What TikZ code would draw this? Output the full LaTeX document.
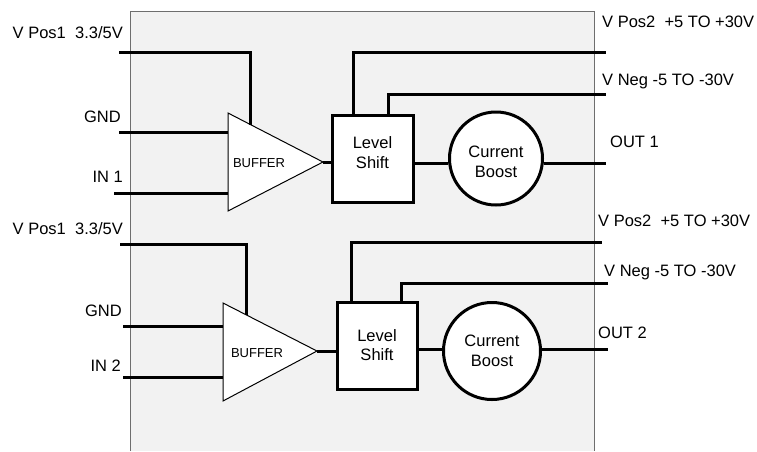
\documentclass[tikz,border=0pt]{standalone}
\usepackage{fontspec}
\setmainfont{Liberation Sans}
\usetikzlibrary{calc}
\definecolor{panel}{RGB}{242,242,242}
\definecolor{edge}{RGB}{110,110,110}
\newcommand{\twoline}[3]{\raisebox{#1}[0pt][0pt]{\begin{tabular}{@{}c@{}}#2\\#3\end{tabular}}}
\begin{document}
\begin{tikzpicture}[x=1pt,y=-1pt,
  wire/.style={line width=3pt},
  lbl/.style={font=\fontsize{16.5}{19}\selectfont, inner sep=0pt},
  bufbox/.style={draw=black, fill=white, line width=1pt, line join=miter},
  buftxt/.style={font=\fontsize{13}{15}\selectfont, inner sep=0pt},
  lvlbox/.style={draw, line width=3pt, fill=white, minimum width=81pt, minimum height=87pt,
    inner sep=0pt, font=\fontsize{16.5}{19.5}\selectfont},
  boostc/.style={draw, circle, line width=3pt, fill=white, minimum size=93pt,
    inner sep=0pt, font=\fontsize{16.5}{19.5}\selectfont}
]
\useasboundingbox (0,0) rectangle (757,451);
% panel
\fill[panel] (130,11) rectangle (594,451);
\draw[edge, line width=1pt] (130,451) -- (130,11) -- (594,11) -- (594,451);

% ===== channel 1 =====
\coordinate (ta1) at (228,113);
\coordinate (tb1) at (228,211);
\coordinate (tc1) at (323,162);
\draw[bufbox] (ta1) -- (tb1) -- (tc1) -- cycle;
\node[buftxt] (buf1) at (259,163) {BUFFER};
\node[lvlbox] (ls1) at (372.5,158.5) {\twoline{-0.5pt}{Level}{Shift}};
\node[boostc] (cb1) at (496,158.5) {\twoline{-9.5pt}{Current}{Boost}};

\node[lbl, anchor=base east] (lvp1) at (123,38) {V Pos1\ \ 3.3/5V};
\node[lbl, anchor=base east] (lgnd1) at (121,122) {GND};
\node[lbl, anchor=base east] (lin1) at (123,182) {IN 1};
\node[lbl, anchor=base west] (lvp21) at (602,27) {V Pos2\ \ +5 TO +30V};
\node[lbl, anchor=base west] (lvn1) at (602,85) {V Neg -5 TO -30V};
\node[lbl, anchor=base west] (lout1) at (610,147) {OUT 1};

\coordinate (vp1s) at (119,52);
\coordinate (gnd1s) at (119,132);
\coordinate (in1s) at (114,193);
\coordinate (vp2e1) at (606,52);
\coordinate (vne1) at (606,94);
\coordinate (sig1) at (606,163);

\draw[wire] (vp1s) -| ($(ta1)!0.242!(tc1)$);
\draw[wire] (gnd1s) -- (gnd1s -| ta1);
\draw[wire] (in1s) -- (in1s -| ta1);
\draw[wire] (tc1) -- (tc1 -| ls1.west);
\draw[wire] ($(ls1.north west)+(23,0)$) |- (vp2e1);
\draw[wire] ($(ls1.north west)+(58,0)$) |- (vne1);
\draw[wire] (ls1.east |- sig1) -- (cb1.west |- sig1);
\draw[wire] (cb1.east |- sig1) -- (sig1);

% ===== channel 2 =====
\coordinate (ta2) at (223,303);
\coordinate (tb2) at (223,401);
\coordinate (tc2) at (317,351);
\draw[bufbox] (ta2) -- (tb2) -- (tc2) -- cycle;
\node[buftxt] (buf2) at (257,353) {BUFFER};
\node[lvlbox, minimum width=80pt] (ls2) at (377,345.5) {\twoline{-6pt}{Level}{Shift}};
\node[boostc, minimum size=97pt] (cb2) at (492,351) {\twoline{-6pt}{Current}{Boost}};

\node[lbl, anchor=base east] (lvp12) at (123,234) {V Pos1\ \ 3.3/5V};
\node[lbl, anchor=base east] (lgnd2) at (122,316) {GND};
\node[lbl, anchor=base east] (lin2) at (121,371) {IN 2};
\node[lbl, anchor=base west] (lvp22) at (598,226) {V Pos2\ \ +5 TO +30V};
\node[lbl, anchor=base west] (lvn2) at (604,276) {V Neg -5 TO -30V};
\node[lbl, anchor=base west] (lout2) at (598,338) {OUT 2};

\coordinate (vp1s2) at (120,244);
\coordinate (gnd2s) at (123,326);
\coordinate (in2s) at (123,377);
\coordinate (vp2e2) at (602,242);
\coordinate (vne2) at (608,283);
\coordinate (sig2) at (608,349);

\draw[wire] (vp1s2) -| ($(ta2)!0.255!(tc2)$);
\draw[wire] (gnd2s) -- (gnd2s -| ta2);
\draw[wire] (in2s) -- (in2s -| ta2);
\draw[wire] (tc2) -- (tc2 -| ls2.west);
\draw[wire] ($(ls2.north west)+(16,0)$) |- (vp2e2);
\draw[wire] ($(ls2.north west)+(66,0)$) |- (vne2);
\draw[wire] (ls2.east |- sig2) -- (cb2.west |- sig2);
\draw[wire] (cb2.east |- sig2) -- (sig2);
\end{tikzpicture}
\end{document}
